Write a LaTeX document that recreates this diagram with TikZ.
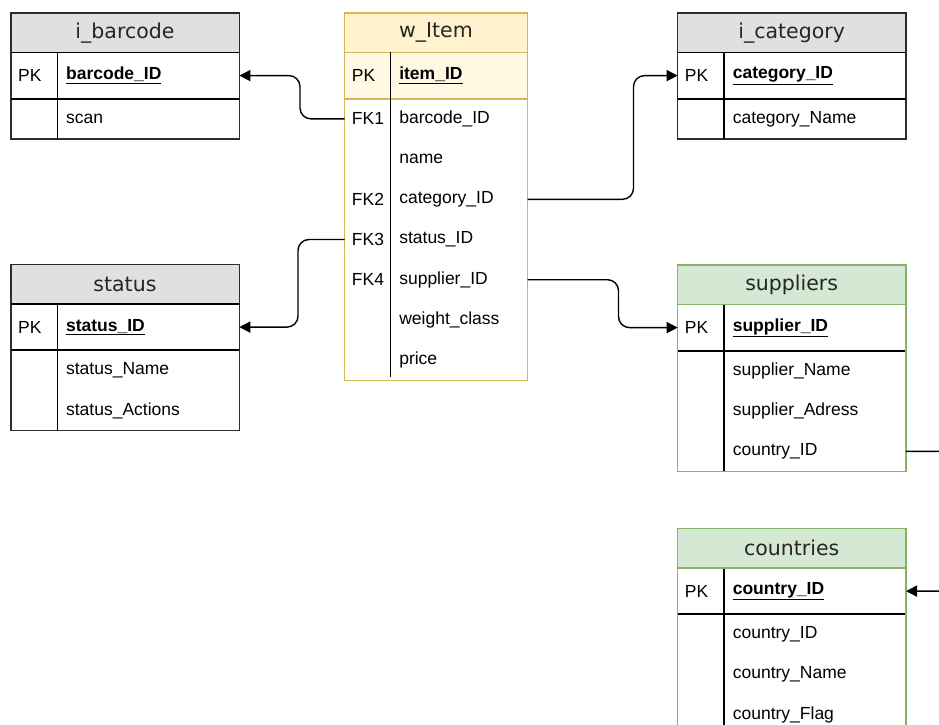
\documentclass[tikz,border=0pt]{standalone}
\usepackage{fontspec}
\setmainfont{Liberation Sans}
\newfontfamily\headfont{DejaVu Sans}
\usetikzlibrary{arrows.meta,positioning}
\definecolor{headgray}{RGB}{224,224,224}
\definecolor{edgegray}{RGB}{45,45,45}
\definecolor{itemfill}{RGB}{255,242,204}
\definecolor{itempk}{RGB}{255,249,228}
\definecolor{itemedge}{RGB}{214,182,86}
\definecolor{supfill}{RGB}{213,232,212}
\definecolor{supedge}{RGB}{130,179,102}
\newcommand{\rowfont}{\fontsize{17.5}{20}\selectfont}
\newcommand{\titlefont}{\headfont\fontsize{20.5}{24}\selectfont}
\newcommand{\pkname}[1]{\underline{\textbf{#1}}}

\begin{document}
\begin{tikzpicture}[x=1pt, y=-1pt,
  tabhead/.style={anchor=north west, inner sep=0pt, minimum height=39pt, minimum width=227.5pt, font=\titlefont, text=black!85},
  keycell/.style={anchor=north west, inner xsep=7pt, inner ysep=0pt, text width=32pt, minimum height=39.8pt, align=left, font=\rowfont},
  fieldcell/.style={inner xsep=8.5pt, inner ysep=0pt, text width=164.5pt, minimum height=39.8pt, align=left, font=\rowfont},
  pkrow/.style={minimum height=46pt},
  tabedge/.style={draw=edgegray, line width=1.3pt},
  divider/.style={black, line width=1.7pt},
  fk/.style={-{Triangle[length=11pt,width=11pt]}, line width=1.4pt, rounded corners=11pt}]
\clip (0,0) rectangle (939,724);

% i_barcode
\node[tabhead, fill=headgray] (bhead) at (11,13) {i\_barcode};
\node[keycell, pkrow] (bk1) at (bhead.south west) {PK};
\node[fieldcell, pkrow, right=0pt of bk1] (bf1) {\pkname{barcode\_ID}};
\node[keycell] (bk2) at (bk1.south west) {};
\node[fieldcell, right=0pt of bk2] (bf2) {scan};
\draw[tabedge] (bhead.north west) rectangle (bf2.south east);
\draw[divider] (bhead.south west) -- (bhead.south east);
\draw[divider] (bk1.south west) -- (bf1.south east);
\draw[divider] (bk1.north east) -- (bk2.south east);

% w_Item
\node[tabhead, fill=itemfill, minimum width=182pt] (whead) at (344.7,13) {w\_Item};
\node[keycell, pkrow, fill=itempk, text width=31.5pt] (wk1) at (whead.south west) {PK};
\node[fieldcell, pkrow, fill=itempk, text width=119.5pt, right=0pt of wk1] (wf1) {\pkname{item\_ID}};
\node[keycell, text width=31.5pt] (wk2) at (wk1.south west) {FK1};
\node[fieldcell, text width=119.5pt, right=0pt of wk2] (wf2) {barcode\_ID};
\node[keycell, text width=31.5pt] (wk3) at (wk2.south west) {};
\node[fieldcell, text width=119.5pt, right=0pt of wk3] (wf3) {name};
\node[keycell, text width=31.5pt] (wk4) at (wk3.south west) {FK2};
\node[fieldcell, text width=119.5pt, right=0pt of wk4] (wf4) {category\_ID};
\node[keycell, text width=31.5pt] (wk5) at (wk4.south west) {FK3};
\node[fieldcell, text width=119.5pt, right=0pt of wk5] (wf5) {status\_ID};
\node[keycell, text width=31.5pt] (wk6) at (wk5.south west) {FK4};
\node[fieldcell, text width=119.5pt, right=0pt of wk6] (wf6) {supplier\_ID};
\node[keycell, text width=31.5pt] (wk7) at (wk6.south west) {};
\node[fieldcell, text width=119.5pt, right=0pt of wk7] (wf7) {weight\_class};
\node[keycell, text width=31.5pt] (wk8) at (wk7.south west) {};
\node[fieldcell, text width=119.5pt, right=0pt of wk8] (wf8) {price};
\draw[tabedge, draw=itemedge] (whead.north west) rectangle (wf8.south east);
\draw[itemedge, line width=1.6pt] (whead.south west) -- (whead.south east);
\draw[itemedge, line width=1.6pt] (wk1.south west) -- (wf1.south east);
\draw[divider, shorten >=3pt] (wk1.north east) -- (wk8.south east);

% i_category
\node[tabhead, fill=headgray] (chead) at (677.7,13) {i\_category};
\node[keycell, pkrow] (ck1) at (chead.south west) {PK};
\node[fieldcell, pkrow, right=0pt of ck1] (cf1) {\pkname{category\_ID}};
\node[keycell] (ck2) at (ck1.south west) {};
\node[fieldcell, right=0pt of ck2] (cf2) {category\_Name};
\draw[tabedge] (chead.north west) rectangle (cf2.south east);
\draw[divider] (chead.south west) -- (chead.south east);
\draw[divider] (ck1.south west) -- (cf1.south east);
\draw[divider] (ck1.north east) -- (ck2.south east);

% status
\node[tabhead, fill=headgray] (shead) at (11,264.5) {status};
\node[keycell, pkrow] (sk1) at (shead.south west) {PK};
\node[fieldcell, pkrow, right=0pt of sk1] (sf1) {\pkname{status\_ID}};
\node[keycell] (sk2) at (sk1.south west) {};
\node[fieldcell, right=0pt of sk2] (sf2) {status\_Name};
\node[keycell] (sk3) at (sk2.south west) {};
\node[fieldcell, right=0pt of sk3] (sf3) {status\_Actions};
\draw[tabedge] (shead.north west) rectangle (sf3.south east);
\draw[divider] (shead.south west) -- (shead.south east);
\draw[divider] (sk1.south west) -- (sf1.south east);
\draw[divider] (sk1.north east) -- (sk3.south east);

% suppliers
\node[tabhead, fill=supfill] (uhead) at (677.7,265) {suppliers};
\node[keycell, pkrow] (uk1) at (uhead.south west) {PK};
\node[fieldcell, pkrow, right=0pt of uk1] (uf1) {\pkname{supplier\_ID}};
\node[keycell] (uk2) at (uk1.south west) {};
\node[fieldcell, right=0pt of uk2] (uf2) {supplier\_Name};
\node[keycell] (uk3) at (uk2.south west) {};
\node[fieldcell, right=0pt of uk3] (uf3) {supplier\_Adress};
\node[keycell] (uk4) at (uk3.south west) {};
\node[fieldcell, right=0pt of uk4] (uf4) {country\_ID};
\draw[divider] (uk1.south west) -- (uf1.south east);
\draw[divider] (uk1.north east) -- (uk4.south east);
\draw[tabedge, draw=supedge] (uhead.north west) rectangle (uf4.south east);
\draw[supedge, line width=1.6pt] (uhead.south west) -- (uhead.south east);

% countries
\node[tabhead, fill=supfill] (nhead) at (677.7,528.5) {countries};
\node[keycell, pkrow] (nk1) at (nhead.south west) {PK};
\node[fieldcell, pkrow, right=0pt of nk1] (nf1) {\pkname{country\_ID}};
\node[keycell] (nk2) at (nk1.south west) {};
\node[fieldcell, right=0pt of nk2] (nf2) {country\_ID};
\node[keycell] (nk3) at (nk2.south west) {};
\node[fieldcell, right=0pt of nk3] (nf3) {country\_Name};
\node[keycell] (nk4) at (nk3.south west) {};
\node[fieldcell, right=0pt of nk4] (nf4) {country\_Flag};
\draw[divider] (nk1.south west) -- (nf1.south east);
\draw[divider] (nk1.north east) -- (nk4.south east);
\draw[tabedge, draw=supedge] (nhead.north west) rectangle (nf4.south east);
\draw[supedge, line width=1.6pt] (nhead.south west) -- (nhead.south east);

% relations
\draw[fk] (wk2.west) -- ++(-44.7,0) |- (bf1.east);
\draw[fk] (wf4.east) -- ++(106,0) |- (ck1.west);
\draw[fk] (wk5.west) -- ++(-46.7,0) |- (sf1.east);
\draw[fk] (wf6.east) -- ++(91,0) |- (uk1.west);
\draw[fk] (uf4.east) -- ++(60,0) |- (nf1.east);
\end{tikzpicture}
\end{document}
